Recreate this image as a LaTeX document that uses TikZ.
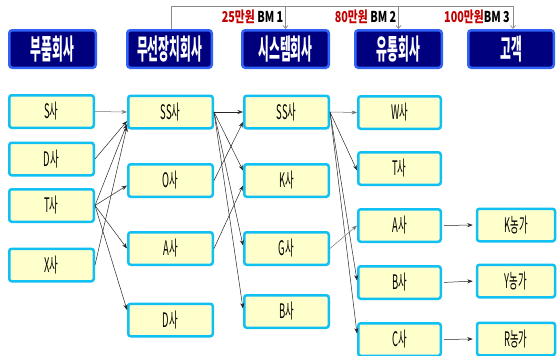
\documentclass[tikz,border=0pt]{standalone}
\usepackage{fontspec}
\usepackage{graphicx}
\usetikzlibrary{arrows.meta,calc}
\newfontfamily\kr{Noto Sans CJK KR}
\newcommand{\cnd}[2]{\scalebox{#1}[1]{#2}}
\definecolor{hdrfill}{HTML}{00007F}
\definecolor{hdrline}{HTML}{2F62F5}
\definecolor{itfill}{HTML}{FFFFCC}
\definecolor{itline}{HTML}{10C0F2}
\definecolor{lblred}{HTML}{C00000}
\definecolor{bmgray}{HTML}{8A8A8A}
\tikzset{
  hdr/.style={draw=hdrline, line width=2.5pt, fill=hdrfill, rounded corners=3pt,
    minimum height=37.5pt, inner sep=0pt, text=white,
    font=\kr\bfseries\fontsize{28}{28}\selectfont},
  item/.style={draw=itline, line width=2.5pt, fill=itfill, rounded corners=2.5pt,
    minimum height=32.5pt, inner sep=0pt, text=black,
    font=\kr\fontsize{20}{20}\selectfont},
  eg/.style={-{Stealth[length=5.5pt,width=4pt]}, line width=0.5pt, draw=black!85},
  eggray/.style={eg, draw=black!55},
  bmline/.style={draw=bmgray, line width=0.7pt},
  bmarrow/.style={bmline, -{Straight Barb[length=3pt,width=5pt]}},
  lbl/.style={inner sep=0pt, font=\kr\bfseries\fontsize{15}{15}\selectfont}
}
\begin{document}
\begin{tikzpicture}[x=1pt,y=-1pt]
\useasboundingbox (0,0) rectangle (557,356);
% headers
\node[hdr, minimum width=86.5pt] (h1) at (52.5,49) {\cnd{0.42}{부품회사}};
\node[hdr, minimum width=84.5pt] (h2) at (169.5,49) {\cnd{0.42}{무선장치회사}};
\node[hdr, minimum width=86.5pt] (h3) at (285.5,49) {\cnd{0.42}{시스템회사}};
\node[hdr, minimum width=86.5pt] (h4) at (398.5,49) {\cnd{0.42}{유통회사}};
\node[hdr, minimum width=85.5pt] (h5) at (511,49) {\cnd{0.42}{고객}};
% column 1
\node[item, minimum width=84.5pt] (s1) at (51.5,111.5) {\cnd{0.47}{S사}};
\node[item, minimum width=84.5pt] (d1) at (51.5,159) {\cnd{0.47}{D사}};
\node[item, minimum width=84.5pt] (t1) at (51.5,205.5) {\cnd{0.47}{T사}};
\node[item, minimum width=84.5pt] (x1) at (51.5,265) {\cnd{0.47}{X사}};
% column 2
\node[item, minimum width=84.5pt] (ss2) at (170.5,112) {\cnd{0.47}{SS사}};
\node[item, minimum width=84.5pt] (o2) at (170.5,180.5) {\cnd{0.47}{O사}};
\node[item, minimum width=84.5pt] (a2) at (170.5,248.5) {\cnd{0.47}{A사}};
\node[item, minimum width=84.5pt] (d2) at (170.5,320) {\cnd{0.47}{D사}};
% column 3
\node[item, minimum width=84.5pt] (ss3) at (286.5,112) {\cnd{0.47}{SS사}};
\node[item, minimum width=84.5pt] (k3) at (286.5,180.5) {\cnd{0.47}{K사}};
\node[item, minimum width=84.5pt] (g3) at (286.5,248.5) {\cnd{0.47}{G사}};
\node[item, minimum width=84.5pt] (b3) at (286.5,311.5) {\cnd{0.47}{B사}};
% column 4
\node[item, minimum width=82.5pt] (w4) at (399.5,112.5) {\cnd{0.47}{W사}};
\node[item, minimum width=82.5pt] (t4) at (399.5,168.5) {\cnd{0.47}{T사}};
\node[item, minimum width=82.5pt] (a4) at (399.5,225.5) {\cnd{0.47}{A사}};
\node[item, minimum width=82.5pt] (b4) at (399.5,282.5) {\cnd{0.47}{B사}};
\node[item, minimum width=82.5pt] (c4) at (399.5,339.5) {\cnd{0.47}{C사}};
% column 5
\node[item, minimum width=78pt] (k5) at (516,225) {\cnd{0.47}{K농가}};
\node[item, minimum width=78pt] (y5) at (516,281) {\cnd{0.47}{Y농가}};
\node[item, minimum width=78pt] (r5) at (516,339) {\cnd{0.47}{R농가}};
% top bracket
\coordinate (tr) at (513,6);
\draw[bmline] ([xshift=1.5pt]h2.north) |- (tr);
\draw[bmarrow] (h3.north |- tr) -- (h3.north);
\draw[bmarrow] (h4.north |- tr) -- (h4.north);
\draw[bmarrow] (tr) -- (tr |- h5.north);
\node[lbl, anchor=base east] (l1) at ([shift={(-2pt,-16pt)}]h3.north |- tr) {\cnd{0.72}{\textcolor{lblred}{25만원}\ BM 1}};
\node[lbl, anchor=base east] (l2) at ([shift={(-2pt,-16pt)}]h4.north |- tr) {\cnd{0.72}{\textcolor{lblred}{80만원}\ BM 2}};
\node[lbl, anchor=base east] (l3) at ([shift={(-3pt,-16pt)}]tr) {\cnd{0.72}{\textcolor{lblred}{100만원}BM 3}};
% col1 -> col2
\draw[eggray] (s1.east) -- (ss2.west);
\draw[eg] (d1.east) -- ([yshift=-9pt]ss2.west);
\draw[eg] (t1.east) -- ([yshift=-12pt]ss2.west);
\draw[eg] (x1.east) -- ([yshift=-14.5pt]ss2.west);
\draw[eg] (t1.east) -- ([yshift=-5pt]o2.west);
\draw[eg] (t1.east) -- (a2.west);
\draw[eg] (t1.east) -- ([yshift=10pt]d2.west);
% col2 -> col3
\draw[eg] (ss2.east) -- (ss3.west);
\draw[eg] (ss2.east) -- ([yshift=10pt]k3.west);
\draw[eg] (ss2.east) -- ([yshift=3pt]g3.west);
\draw[eg] (ss2.east) -- ([yshift=3pt]b3.west);
\draw[eg] (o2.east) -- ([yshift=-10pt]ss3.west);
\draw[eg] (a2.east) -- ([yshift=-5pt]k3.west);
% col3 -> col4
\draw[eggray] (ss3.east) -- (w4.west);
\draw[eg] (ss3.east) -- ([yshift=-2pt]t4.west);
\draw[eg] (ss3.east) -- ([yshift=2pt]b4.west);
\draw[eg] (ss3.east) -- ([yshift=6pt]c4.west);
\draw[eggray] (g3.east) -- (a4.west);
% col4 -> col5
\draw[eg, shorten <=2pt, shorten >=3pt] (a4.east) -- (k5.west);
\draw[eg, shorten <=2pt, shorten >=3pt] (b4.east) -- (y5.west);
\draw[eg, shorten <=2pt, shorten >=3pt] (c4.east) -- (r5.west);
\end{tikzpicture}
\end{document}
